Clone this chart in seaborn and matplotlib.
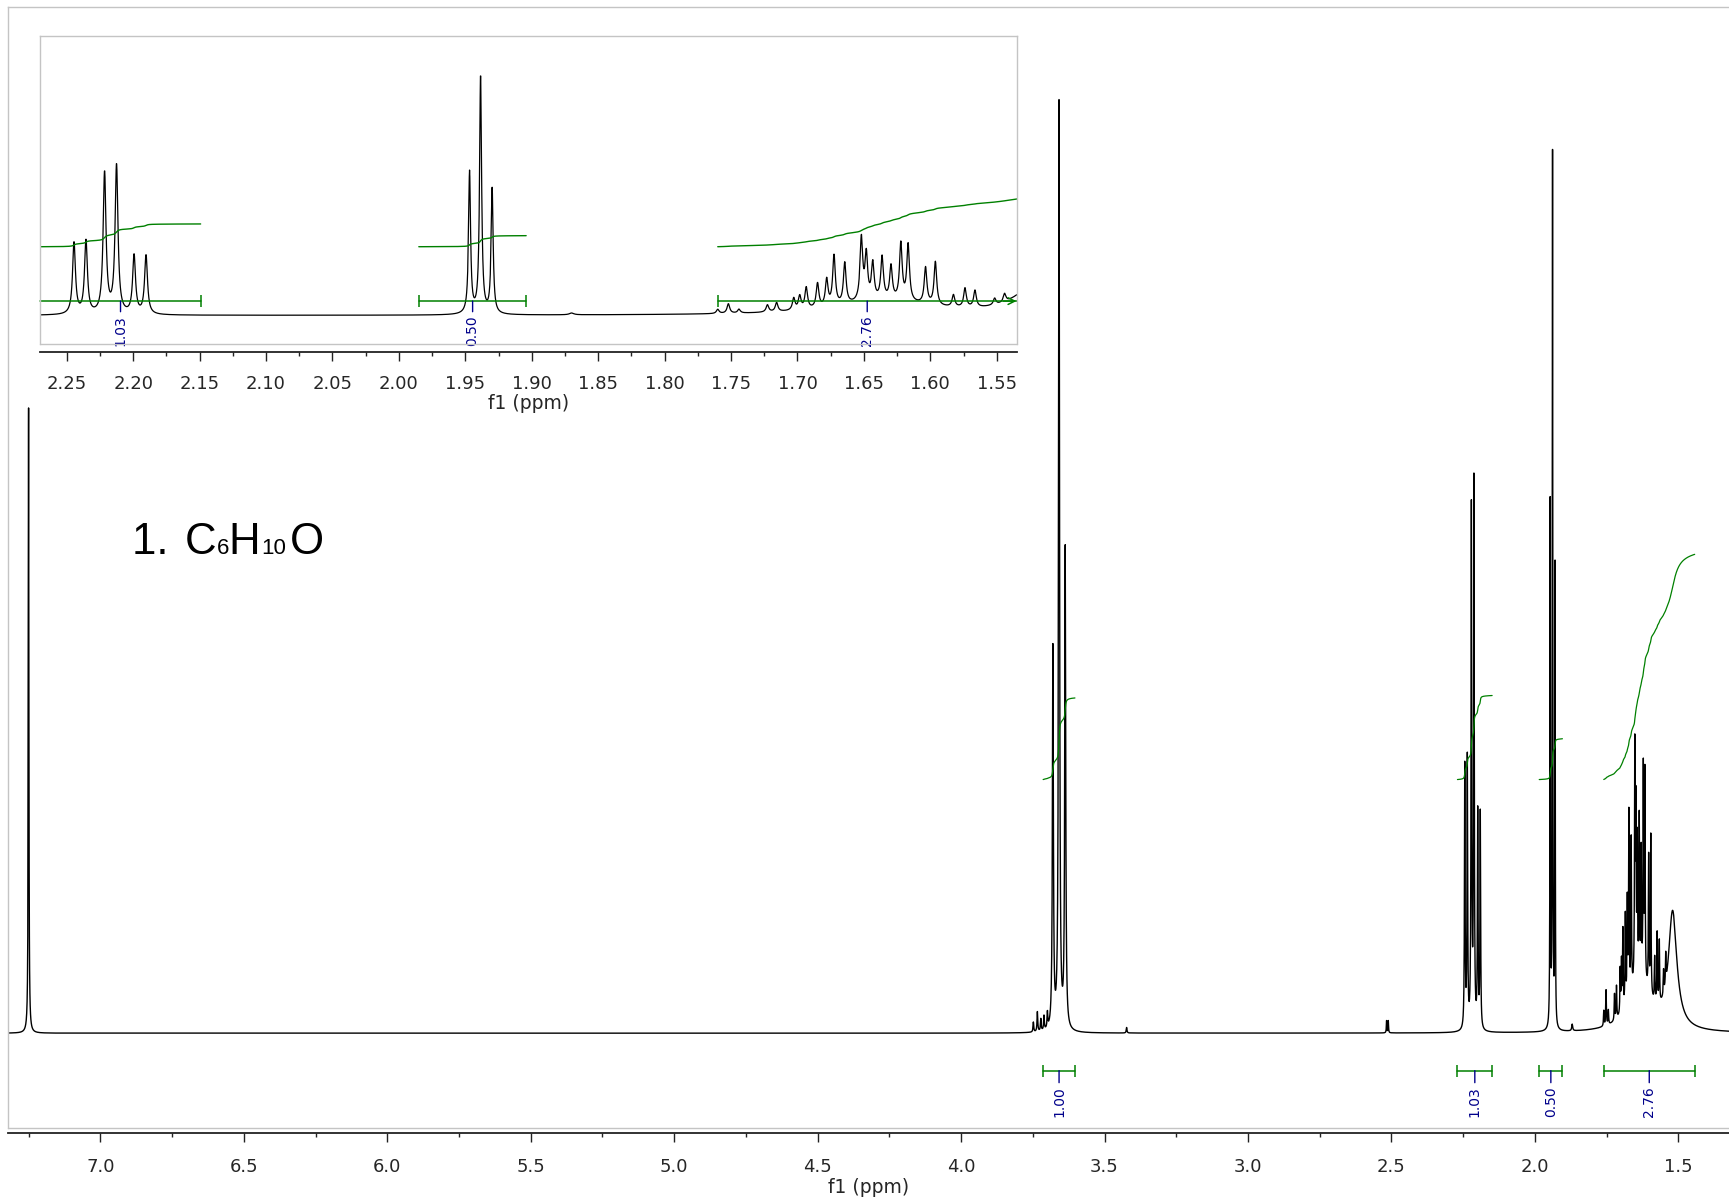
import numpy as np
import pandas as pd
import matplotlib
matplotlib.use("Agg")
import matplotlib.pyplot as plt
import seaborn as sns

# ---------------- data ----------------
# peak positions (ppm), heights (arbitrary units) and half widths (ppm)
peak_ppm = [7.250,
            3.6800, 3.6585, 3.6370,
            3.748, 3.734, 3.722, 3.711, 3.699, 3.423,
            2.517, 2.511,
            2.2445, 2.2355, 2.2215, 2.2125, 2.1993, 2.1903,
            1.9468, 1.9385, 1.9298,
            1.870,
            1.760, 1.752, 1.744, 1.7226, 1.7157,
            1.7028, 1.6983, 1.6934, 1.6849, 1.6780, 1.6725, 1.6644,
            1.6519, 1.6482, 1.6433, 1.6363, 1.6296, 1.6222, 1.6167,
            1.6036, 1.5962, 1.5826, 1.5739, 1.5664, 1.5516, 1.5441,
            1.635, 1.520]
peak_height = [567,
               345, 842, 435,
               9, 18, 11, 13, 14, 5,
               11, 11,
               240, 245, 472, 497, 196, 197,
               475, 800, 418,
               6,
               14, 32, 13, 24, 30,
               40, 45, 72, 82, 90, 168, 138,
               210, 150, 122, 143, 112, 190, 190,
               122, 145, 40, 64, 56, 22, 28,
               45, 105]
peak_hwhm = [0.0012,
             0.0020, 0.0020, 0.0020,
             0.0015, 0.0015, 0.0015, 0.0015, 0.0015, 0.0015,
             0.0010, 0.0010,
             0.0013, 0.0013, 0.0013, 0.0013, 0.0013, 0.0013,
             0.0009, 0.0009, 0.0009,
             0.0020,
             0.0012, 0.0012, 0.0012, 0.0012, 0.0012,
             0.0012, 0.0012, 0.0012, 0.0012, 0.0012, 0.0012, 0.0012,
             0.0012, 0.0012, 0.0012, 0.0012, 0.0012, 0.0012, 0.0012,
             0.0012, 0.0012, 0.0012, 0.0012, 0.0012, 0.0012, 0.0012,
             0.045, 0.0175]

integral_labels = ["1.00", "1.03", "0.50", "2.76"]
integral_values = [1.00, 1.03, 0.50, 2.76]
integral_from = [3.714, 2.270, 1.985, 1.760]
integral_to = [3.603, 2.149, 1.904, 1.443]

main_ticks = [7.0, 6.5, 6.0, 5.5, 5.0, 4.5, 4.0, 3.5, 3.0, 2.5, 2.0, 1.5]
inset_ticks = [2.25, 2.20, 2.15, 2.10, 2.05, 2.00, 1.95, 1.90, 1.85,
               1.80, 1.75, 1.70, 1.65, 1.60, 1.55]
x_label = "f1 (ppm)"
title_parts = ["1. ", "C", "6", "H", "10", "O"]

# ---------------- spectrum from peak list ----------------
ppm = np.arange(1.300, 7.340, 0.0002)
intensity = np.zeros_like(ppm)
for p, h, g in zip(peak_ppm, peak_height, peak_hwhm):
    intensity += h * g * g / (g * g + (ppm - p) ** 2)
spec = pd.DataFrame({"ppm": ppm, "intensity": intensity})

INT_BASE = 230.0
INT_SCALE = 74.0
integral_frames = []
for lab, val, a, b in zip(integral_labels, integral_values, integral_from, integral_to):
    sub = spec[(spec.ppm <= a) & (spec.ppm >= b)].sort_values("ppm", ascending=False)
    cum = np.cumsum(sub.intensity.values)
    cum = cum / cum[-1]
    integral_frames.append(pd.DataFrame({"ppm": sub.ppm.values,
                                         "level": INT_BASE + INT_SCALE * val * cum,
                                         "region": lab}))
integrals = pd.concat(integral_frames, ignore_index=True)

# ---------------- style ----------------
sns.set_style("white")
plt.rcParams["font.family"] = ["DejaVu Sans"]

W, H = 1729, 1204
fig = plt.figure(figsize=(W / 100, H / 100), dpi=100)

GREEN = "#008000"
BLUE = "#00008B"
FRAME = "#c4c4c4"


def fig_rect(x0, y0, x1, y1):
    return [x0 / W, 1 - y1 / H, (x1 - x0) / W, (y1 - y0) / H]


def style_axis(ax, out_px, ticks, fmt, minor_step, pad, xlim):
    for s in ("left", "top", "right"):
        ax.spines[s].set_color(FRAME)
        ax.spines[s].set_linewidth(1.0)
    ax.spines["bottom"].set_position(("outward", out_px * 0.72))
    ax.spines["bottom"].set_color("#222222")
    ax.spines["bottom"].set_linewidth(1.3)
    ax.plot([0, 1], [0, 0], transform=ax.transAxes, color=FRAME, lw=1.0,
            clip_on=False, zorder=5)
    ax.set_yticks([])
    ax.set_xticks(ticks)
    ax.set_xticklabels([fmt.format(t) for t in ticks])
    lo, hi = min(xlim), max(xlim)
    first = np.ceil(lo / minor_step - 1e-6) * minor_step
    minors = np.arange(first, hi + 1e-9, minor_step)
    ax.set_xticks(minors, minor=True)
    ax.tick_params(axis="x", which="major", direction="out", length=6.5, width=1.0,
                   color="#222222", labelsize=13, pad=pad, bottom=True)
    ax.tick_params(axis="x", which="minor", direction="out", length=3.2, width=1.0,
                   color="#222222", bottom=True)
    ax.set_xlim(*xlim)


# ---------------- main axes ----------------
ax = fig.add_axes(fig_rect(8.3, 6.6, 1729, 1128))
ax.set_facecolor("white")
sns.lineplot(data=spec, x="ppm", y="intensity", ax=ax, color="black", lw=1.0,
             estimator=None, errorbar=None, sort=False)
sns.lineplot(data=integrals, x="ppm", y="level", units="region", ax=ax, color=GREEN,
             lw=0.9, estimator=None, errorbar=None, sort=False)
style_axis(ax, 5, main_ticks, "{:.1f}", 0.25, 11.2, (7.3207, 1.3236))
ax.spines["right"].set_visible(False)
ax.set_ylim(-86, 931)
ax.set_xlabel(x_label, fontsize=13.5, labelpad=1.8)
ax.set_ylabel("")

for lab, a, b in zip(integral_labels, integral_from, integral_to):
    ax.plot([a, b], [-34, -34], color=GREEN, lw=1.1, marker="|", markersize=8,
            markeredgewidth=1.1)
    ax.annotate(lab, xy=((a + b) / 2, -34), xytext=(0, -11), textcoords="offset points",
                rotation=90, ha="center", va="top", color=BLUE, fontsize=10,
                arrowprops=dict(arrowstyle="-", color=BLUE, lw=1.0, shrinkA=0, shrinkB=0,
                                relpos=(0.5, 1.0)))

# ---------------- inset axes ----------------
ins = fig.add_axes(fig_rect(40, 36.4, 1016.7, 344))
ins.set_facecolor("white")
ins.set_zorder(3)
sel = spec[(spec.ppm <= 2.30) & (spec.ppm >= 1.50)]
sns.lineplot(data=sel, x="ppm", y="intensity", ax=ins, color="black", lw=0.9,
             estimator=None, errorbar=None, sort=False)
sns.lineplot(data=integrals[integrals.region != "1.00"], x="ppm", y="level",
             units="region", ax=ins, color=GREEN, lw=1.0, estimator=None,
             errorbar=None, sort=False)
style_axis(ins, 8, inset_ticks, "{:.2f}", 0.025, 9.8, (2.2701, 1.535))
ins.set_ylim(-95.6, 934)
ins.set_xlabel(x_label, fontsize=13.5, labelpad=1.0)
ins.set_ylabel("")

for lab, a, b in zip(integral_labels[1:], integral_from[1:], integral_to[1:]):
    left = min(a, 2.2699)
    right = max(b, 1.535)
    ins.plot([left, right], [48, 48], color=GREEN, lw=1.1, clip_on=False)
    ins.plot([left], [48], color=GREEN, marker="|", markersize=8, markeredgewidth=1.1)
    if b >= 1.535:
        ins.plot([b], [48], color=GREEN, marker="|", markersize=8, markeredgewidth=1.1)
    else:
        ins.annotate("", xy=(1.5352, 48), xytext=(1.545, 48),
                     arrowprops=dict(arrowstyle="->", color=GREEN, lw=1.1,
                                     shrinkA=0, shrinkB=0, mutation_scale=12))
    ins.annotate(lab, xy=((a + right) / 2, 48), xytext=(0, -10), textcoords="offset points",
                 rotation=90, ha="center", va="top", color=BLUE, fontsize=10,
                 arrowprops=dict(arrowstyle="-", color=BLUE, lw=1.0, shrinkA=0, shrinkB=0,
                                 relpos=(0.5, 1.0)))

# ---------------- compound label ----------------
base_y = 1 - 554 / H
big, small = 31.5, 16
fam = ["Liberation Sans", "DejaVu Sans"]
xs = [132, 185, 217, 228, 261, 290]
sizes = [big, big, small, big, small, big]
for txt, x0, fs in zip(title_parts, xs, sizes):
    fig.text(x0 / W, base_y, txt, fontsize=fs, family=fam, va="baseline", ha="left",
             color="black")

fig.savefig("out.png", dpi=100)
